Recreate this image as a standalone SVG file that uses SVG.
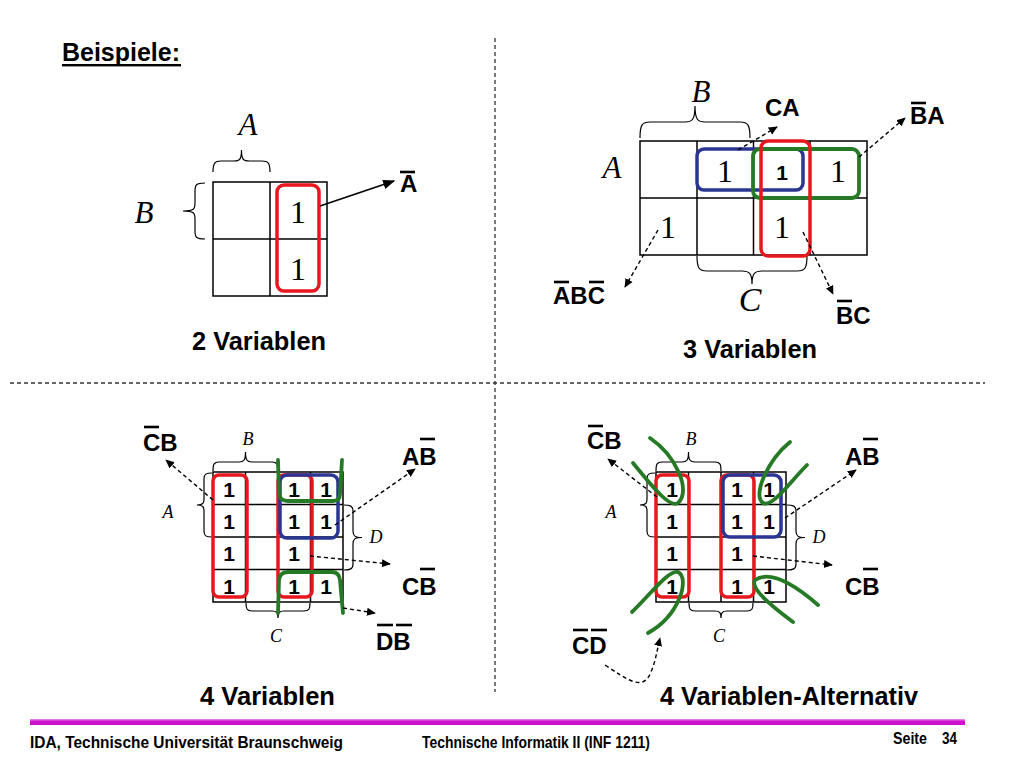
<svg xmlns="http://www.w3.org/2000/svg" width="1024" height="768" viewBox="0 0 1024 768">
<style>
.bg{fill:#ffffff}
.grid{fill:none;stroke:#000;stroke-width:1.5}
.brace{fill:none;stroke:#000;stroke-width:1.2}
.red{fill:none;stroke:#e8161d;stroke-width:3.5}
.blue{fill:none;stroke:#2b3592;stroke-width:3.5}
.green{fill:none;stroke:#267a26;stroke-width:3.8;stroke-linecap:round}
.dash{fill:none;stroke:#000;stroke-width:1.4;stroke-dasharray:4 3}
.solid{fill:none;stroke:#000;stroke-width:1.6}
.div{fill:none;stroke:#333;stroke-width:1.3;stroke-dasharray:4 3}
.bar{stroke:#000;stroke-width:2.6}
.lbl{font-family:"Liberation Sans",Arial,sans-serif;font-weight:bold;font-size:24px;fill:#000}
.ital{font-family:"Liberation Serif","Times New Roman",serif;font-style:italic;fill:#000;text-anchor:middle}
.one{font-family:"Liberation Serif","Times New Roman",serif;font-size:32px;fill:#000;text-anchor:middle}
.oneb{font-family:"Liberation Sans",Arial,sans-serif;font-weight:bold;font-size:21px;fill:#000;text-anchor:middle}
.title{font-family:"Liberation Sans",Arial,sans-serif;font-weight:bold;font-size:25px;fill:#000}
.foot{font-family:"Liberation Sans",Arial,sans-serif;font-weight:bold;font-size:17px;fill:#000}
</style>
<defs>
<marker id="ah" viewBox="0 0 10 10" refX="9" refY="5" markerWidth="9" markerHeight="9" markerUnits="userSpaceOnUse" orient="auto">
<path d="M0,0.5 L10,5 L0,9.5 z" fill="#000"/>
</marker>
<marker id="ahs" viewBox="0 0 10 10" refX="9" refY="5" markerWidth="12" markerHeight="12" markerUnits="userSpaceOnUse" orient="auto">
<path d="M0,1 L10,5 L0,9 z" fill="#000"/>
</marker>
</defs>
<rect class="bg" x="0" y="0" width="1024" height="768"/>

<g id="header">
<text class="title" x="62" y="61" font-size="26" textLength="118" lengthAdjust="spacingAndGlyphs">Beispiele:</text>
<rect x="62" y="64" width="119" height="2.4" fill="#000"/>
</g>

<g id="dividers">
<line class="div" x1="495" y1="38" x2="495" y2="692"/>
<line class="div" x1="10" y1="383" x2="985" y2="383"/>
</g>

<!-- 2 variables -->
<g id="map2">
<rect class="grid" x="213" y="182" width="114" height="114"/>
<line class="grid" x1="270" y1="182" x2="270" y2="296"/>
<line class="grid" x1="213" y1="239" x2="327" y2="239"/>
<path class="brace" d="M213,172 C213,163 215,161 221,161 L233.5,161 C239.5,161 241.5,160 241.5,150 C241.5,160 243.5,161 249.5,161 L262,161 C268,161 270,163 270,172"/>
<path class="brace" d="M205,183 C196,183 195,185 195,191 L195,203 C195,209 194,211 183,211 C194,211 195,213 195,219 L195,231 C195,237 196,239 205,239"/>
<text class="ital" x="248" y="135" font-size="31">A</text>
<text class="ital" x="144" y="223" font-size="31">B</text>
<text class="one" x="298" y="223">1</text>
<text class="one" x="298" y="280">1</text>
<rect class="red" x="277" y="185" width="42" height="106" rx="7"/>
</g>
<g id="label2">
<text class="lbl" x="400" y="192">A</text>
<line class="bar" x1="400" y1="172" x2="415" y2="172"/>
<text class="title" x="192" y="350" textLength="134" lengthAdjust="spacingAndGlyphs">2 Variablen</text>
</g>

<!-- 3 variables -->
<g id="map3">
<rect class="grid" x="640" y="141" width="227" height="114"/>
<line class="grid" x1="697" y1="141" x2="697" y2="255"/>
<line class="grid" x1="753.5" y1="141" x2="753.5" y2="255"/>
<line class="grid" x1="810" y1="141" x2="810" y2="255"/>
<line class="grid" x1="640" y1="198" x2="867" y2="198"/>
<path class="brace" d="M640,138 C640,125 642,122 650,122 L685,122 C692,122 695,120 695,106 C695,120 698,122 705,122 L740,122 C748,122 750,125 750,138"/>
<path class="brace" d="M697,256 C697,268 699,271 707,271 L742,271 C749,271 752,273 752,284 C752,273 755,271 762,271 L797,271 C805,271 807,268 807,256"/>
<text class="ital" x="701" y="102" font-size="31">B</text>
<text class="ital" x="612" y="178" font-size="31">A</text>
<text class="ital" x="750" y="311" font-size="34">C</text>
<text class="one" x="725" y="182">1</text>
<text class="oneb" x="782" y="180" font-size="20">1</text>
<text class="one" x="838" y="182">1</text>
<text class="one" x="668" y="238">1</text>
<text class="one" x="782" y="238">1</text>
<rect class="blue" x="697" y="149" width="106" height="41" rx="7"/>
<rect class="green" x="753" y="149" width="106" height="49" rx="7"/>
<rect class="red" x="761" y="141" width="49" height="115" rx="7"/>
</g>
<g id="label3">
<text class="lbl" x="765" y="116">CA</text>
<text class="lbl" x="910" y="124">BA</text>
<line class="bar" x1="911" y1="103" x2="926" y2="103"/>
<text class="lbl" x="553" y="304">ABC</text>
<line class="bar" x1="554" y1="282" x2="569" y2="282"/>
<line class="bar" x1="589" y1="282" x2="604" y2="282"/>
<text class="lbl" x="836" y="324">BC</text>
<line class="bar" x1="837" y1="301" x2="852" y2="301"/>
<text class="title" x="683" y="358" textLength="134" lengthAdjust="spacingAndGlyphs">3 Variablen</text>
</g>

<!-- 4 variables -->
<g id="map4">
<rect class="grid" x="213" y="472" width="130" height="130"/>
<line class="grid" x1="245.5" y1="472" x2="245.5" y2="602"/>
<line class="grid" x1="278" y1="472" x2="278" y2="602"/>
<line class="grid" x1="310.5" y1="472" x2="310.5" y2="602"/>
<line class="grid" x1="213" y1="504.5" x2="343" y2="504.5"/>
<line class="grid" x1="213" y1="537" x2="343" y2="537"/>
<line class="grid" x1="213" y1="569.5" x2="343" y2="569.5"/>
<path class="brace" d="M213,471 C213,464 214,462 219,462 L239,462 C244,462 245.5,460 245.5,452 C245.5,460 247,462 252,462 L272,462 C277,462 278,464 278,471"/>
<path class="brace" d="M212,473 C206,473 204,474 204,479 L204,499 C204,503 203,505 197,505 C203,505 204,507 204,511 L204,531 C204,536 206,537 212,537"/>
<path class="brace" d="M344,505 C350,505 353,506 353,511 L353,531 C353,536 355,537.5 362,537.5 C355,537.5 353,539 353,544 L353,564 C353,569 350,570 344,570"/>
<path class="brace" d="M246,603 C246,609 247,611 252,611 L272,611 C277,611 278,613 278,618 C278,613 279,611 284,611 L304,611 C309,611 310,609 310,603"/>
<text class="ital" x="248" y="445" font-size="18">B</text>
<text class="ital" x="168" y="518" font-size="18">A</text>
<text class="ital" x="376" y="543" font-size="18">D</text>
<text class="ital" x="276" y="642" font-size="18">C</text>
<text class="oneb" x="229" y="497">1</text><text class="oneb" x="294" y="497">1</text><text class="oneb" x="326" y="497">1</text>
<text class="oneb" x="229" y="529">1</text><text class="oneb" x="294" y="529">1</text><text class="oneb" x="326" y="529">1</text>
<text class="oneb" x="229" y="561">1</text><text class="oneb" x="294" y="561">1</text>
<text class="oneb" x="229" y="594">1</text><text class="oneb" x="294" y="594">1</text><text class="oneb" x="326" y="594">1</text>
<rect class="red" x="213" y="475" width="34" height="122" rx="6"/>
<rect class="red" x="278" y="475" width="34" height="122" rx="6"/>
<rect class="blue" x="280" y="475" width="58" height="63" rx="7"/>
<path class="green" d="M278,460 L279,494 Q280,501 288,501 L333,501 Q340,501 340,494 L342,460"/>
<path class="green" d="M278,613 L279,580 Q280,572 288,572 L332,572 Q339,572 340,580 L343,613"/>
</g>
<g id="label4">
<text class="lbl" x="143" y="451">CB</text>
<line class="bar" x1="144" y1="427" x2="159" y2="427"/>
<text class="lbl" x="402" y="465">AB</text>
<line class="bar" x1="420" y1="439" x2="435" y2="439"/>
<text class="lbl" x="402" y="595">CB</text>
<line class="bar" x1="420" y1="569" x2="435" y2="569"/>
<text class="lbl" x="376" y="650">DB</text>
<line class="bar" x1="377" y1="625" x2="393" y2="625"/>
<line class="bar" x1="396" y1="625" x2="412" y2="625"/>
<text class="title" x="200" y="705" textLength="135" lengthAdjust="spacingAndGlyphs">4 Variablen</text>
</g>

<!-- 4 variables alternative -->
<g id="map4alt">
<g transform="translate(443,0)">
<rect class="grid" x="213" y="472" width="130" height="130"/>
<line class="grid" x1="245.5" y1="472" x2="245.5" y2="602"/>
<line class="grid" x1="278" y1="472" x2="278" y2="602"/>
<line class="grid" x1="310.5" y1="472" x2="310.5" y2="602"/>
<line class="grid" x1="213" y1="504.5" x2="343" y2="504.5"/>
<line class="grid" x1="213" y1="537" x2="343" y2="537"/>
<line class="grid" x1="213" y1="569.5" x2="343" y2="569.5"/>
<path class="brace" d="M213,471 C213,464 214,462 219,462 L239,462 C244,462 245.5,460 245.5,452 C245.5,460 247,462 252,462 L272,462 C277,462 278,464 278,471"/>
<path class="brace" d="M212,473 C206,473 204,474 204,479 L204,499 C204,503 203,505 197,505 C203,505 204,507 204,511 L204,531 C204,536 206,537 212,537"/>
<path class="brace" d="M344,505 C350,505 353,506 353,511 L353,531 C353,536 355,537.5 362,537.5 C355,537.5 353,539 353,544 L353,564 C353,569 350,570 344,570"/>
<path class="brace" d="M246,603 C246,609 247,611 252,611 L272,611 C277,611 278,613 278,618 C278,613 279,611 284,611 L304,611 C309,611 310,609 310,603"/>
<text class="ital" x="248" y="445" font-size="18">B</text>
<text class="ital" x="168" y="518" font-size="18">A</text>
<text class="ital" x="376" y="543" font-size="18">D</text>
<text class="ital" x="276" y="642" font-size="18">C</text>
<text class="oneb" x="229" y="497">1</text><text class="oneb" x="294" y="497">1</text><text class="oneb" x="326" y="497">1</text>
<text class="oneb" x="229" y="529">1</text><text class="oneb" x="294" y="529">1</text><text class="oneb" x="326" y="529">1</text>
<text class="oneb" x="229" y="561">1</text><text class="oneb" x="294" y="561">1</text>
<text class="oneb" x="229" y="594">1</text><text class="oneb" x="294" y="594">1</text><text class="oneb" x="326" y="594">1</text>
<rect class="red" x="213" y="475" width="33" height="122" rx="6"/>
<rect class="red" x="278" y="475" width="33" height="122" rx="6"/>
<rect class="blue" x="280" y="475" width="58" height="62" rx="7"/>
</g>
<path class="green" d="M650,438 C675,455 692,490 678,503 C670,508 655,490 633,463"/>
<path class="green" d="M790,442 C768,460 752,495 763,503 C772,508 790,482 807,465"/>
<path class="green" d="M632,612 C650,595 668,570 678,572 C690,578 680,615 648,633"/>
<path class="green" d="M818,605 C795,585 770,570 755,580 C750,588 770,605 793,622"/>
</g>
<g id="label4alt">
<text class="lbl" x="587" y="449">CB</text>
<line class="bar" x1="588" y1="426" x2="603" y2="426"/>
<text class="lbl" x="845" y="465">AB</text>
<line class="bar" x1="863" y1="439" x2="878" y2="439"/>
<text class="lbl" x="845" y="595">CB</text>
<line class="bar" x1="863" y1="569" x2="878" y2="569"/>
<text class="lbl" x="572" y="654">CD</text>
<line class="bar" x1="573" y1="630" x2="588" y2="630"/>
<line class="bar" x1="591" y1="630" x2="607" y2="630"/>
<text class="title" x="660" y="705" textLength="258" lengthAdjust="spacingAndGlyphs">4 Variablen-Alternativ</text>
</g>

<g id="connectors">
<line class="solid" x1="320" y1="206" x2="394" y2="181" marker-end="url(#ahs)"/>
<line class="dash" x1="738" y1="150" x2="777" y2="127" marker-end="url(#ah)"/>
<line class="dash" x1="859" y1="157" x2="905" y2="118" marker-end="url(#ah)"/>
<line class="dash" x1="658" y1="230" x2="625" y2="287" marker-end="url(#ah)"/>
<line class="dash" x1="803" y1="232" x2="833" y2="294" marker-end="url(#ah)"/>
<line class="dash" x1="213" y1="500" x2="166" y2="460" marker-end="url(#ah)"/>
<line class="dash" x1="335" y1="525" x2="415" y2="469" marker-end="url(#ah)"/>
<line class="dash" x1="310" y1="556" x2="390" y2="564" marker-end="url(#ah)"/>
<line class="dash" x1="343" y1="608" x2="375" y2="613" marker-end="url(#ah)"/>
<line class="dash" x1="657" y1="497" x2="608" y2="459" marker-end="url(#ah)"/>
<line class="dash" x1="785" y1="518" x2="856" y2="470" marker-end="url(#ah)"/>
<line class="dash" x1="753" y1="556" x2="832" y2="565" marker-end="url(#ah)"/>
<path class="dash" d="M605,665 C628,680 643,692 651,672 C656,660 657,650 660,638" marker-end="url(#ah)"/>
</g>

<g id="footer">
<rect x="30" y="719" width="935" height="6" fill="#cc12cc"/>
<rect x="30" y="719" width="935" height="1.5" fill="#e27be2"/>
<text class="foot" x="30" y="748" textLength="313" lengthAdjust="spacingAndGlyphs">IDA, Technische Universität Braunschweig</text>
<text class="foot" x="422" y="748" textLength="228" lengthAdjust="spacingAndGlyphs">Technische Informatik II (INF 1211)</text>
<text class="foot" x="893" y="744" textLength="34" lengthAdjust="spacingAndGlyphs">Seite</text>
<text class="foot" x="942" y="744" textLength="15" lengthAdjust="spacingAndGlyphs">34</text>
</g>
</svg>
